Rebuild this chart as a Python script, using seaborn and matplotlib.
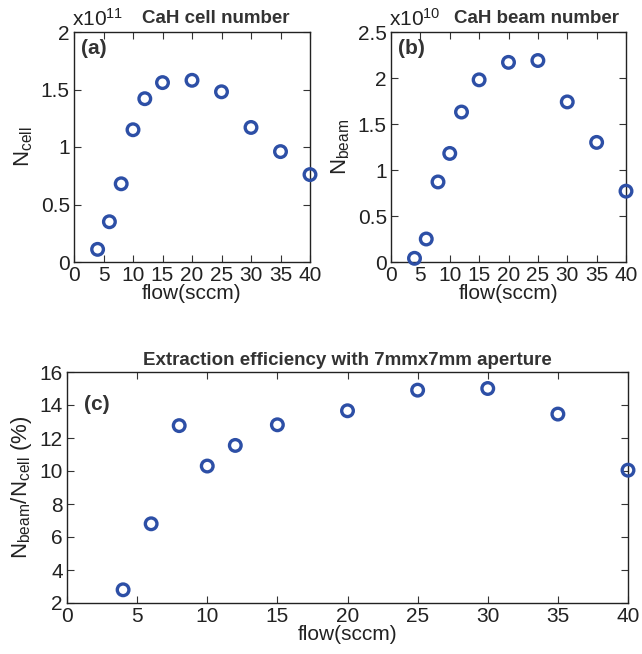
import matplotlib
matplotlib.use("Agg")
import matplotlib.pyplot as plt
import seaborn as sns
import pandas as pd

flow = [4, 6, 8, 10, 12, 15, 20, 25, 30, 35, 40]
n_cell_e11 = [0.11, 0.35, 0.68, 1.15, 1.42, 1.56, 1.58, 1.48, 1.17, 0.96, 0.76]
n_beam_e10 = [0.04, 0.25, 0.87, 1.18, 1.63, 1.98, 2.17, 2.19, 1.74, 1.30, 0.77]
efficiency_pct = [2.8, 6.8, 12.75, 10.3, 11.55, 12.8, 13.65, 14.9, 15.0, 13.45, 10.05]

df = pd.DataFrame({"flow": flow, "cell": n_cell_e11, "beam": n_beam_e10, "eff": efficiency_pct})

sns.set_style("ticks")
plt.rcParams["font.family"] = ["Liberation Sans", "DejaVu Sans"]
plt.rcParams["mathtext.fontset"] = "custom"
plt.rcParams["mathtext.rm"] = "Liberation Sans"
plt.rcParams["mathtext.it"] = "Liberation Sans"

W, H = 642, 654
fig = plt.figure(figsize=(W / 100, H / 100), dpi=100)

def ax_at(l, t, r, b):
    return fig.add_axes([l / W, 1 - b / H, (r - l) / W, (b - t) / H])

axa = ax_at(74, 32, 310, 262)
axb = ax_at(391, 32, 626, 262)
axc = ax_at(67, 372, 628, 603)

color = "#2d4fa6"
txt = "#222222"
kw = dict(s=70, facecolors="none", edgecolor=color, linewidth=2.4, legend=False, zorder=3, clip_on=False)

sns.scatterplot(data=df, x="flow", y="cell", ax=axa, **kw)
sns.scatterplot(data=df, x="flow", y="beam", ax=axb, **kw)
sns.scatterplot(data=df, x="flow", y="eff", ax=axc, **kw)

for ax in (axa, axb, axc):
    ax.set_xlim(0, 40)
    ax.tick_params(direction="in", top=True, right=True, labelsize=15, length=5, width=0.8, pad=3,
                   labelcolor=txt, color="#333333")
    for sp in ax.spines.values():
        sp.set_linewidth(1.0)
        sp.set_color("#222222")
        sp.set_visible(True)
    ax.set_xlabel("flow(sccm)", fontsize=15, labelpad=-1, color=txt)
    ax.set_xticks(range(0, 41, 5))

axa.set_ylim(0, 2)
axa.set_yticks([0, 0.5, 1, 1.5, 2])
axa.set_yticklabels(["0", "0.5", "1", "1.5", "2"])
axa.set_ylabel(r"N$_{\mathrm{cell}}$", fontsize=16, labelpad=4, color=txt)
axa.text(-0.01, 1.01, r"x10$^{11}$", transform=axa.transAxes, fontsize=15, ha="left", va="bottom", color=txt)
axa.text(0.6, 1.02, "CaH cell number", transform=axa.transAxes, fontsize=13.5, fontweight="bold",
         ha="center", va="bottom", color="#333333")
axa.text(0.03, 0.97, "(a)", transform=axa.transAxes, fontsize=15, fontweight="bold", ha="left", va="top", color="#333333")

axb.set_ylim(0, 2.5)
axb.set_yticks([0, 0.5, 1, 1.5, 2, 2.5])
axb.set_yticklabels(["0", "0.5", "1", "1.5", "2", "2.5"])
axb.set_ylabel(r"N$_{\mathrm{beam}}$", fontsize=16, labelpad=4, color=txt)
axb.text(-0.01, 1.01, r"x10$^{10}$", transform=axb.transAxes, fontsize=15, ha="left", va="bottom", color=txt)
axb.text(0.62, 1.02, "CaH beam number", transform=axb.transAxes, fontsize=13.5, fontweight="bold",
         ha="center", va="bottom", color="#333333")
axb.text(0.03, 0.97, "(b)", transform=axb.transAxes, fontsize=15, fontweight="bold", ha="left", va="top", color="#333333")

axc.set_ylim(2, 16)
axc.set_yticks(range(2, 17, 2))
axc.set_ylabel(r"N$_{\mathrm{beam}}$/N$_{\mathrm{cell}}$ (%)", fontsize=16, labelpad=4, color=txt)
axc.set_title("Extraction efficiency with 7mmx7mm aperture", fontsize=13.5, fontweight="bold", pad=5, color="#333333")
axc.text(0.03, 0.9, "(c)", transform=axc.transAxes, fontsize=15, fontweight="bold", ha="left", va="top", color="#333333")

fig.savefig("out.png", dpi=100, facecolor="white")
